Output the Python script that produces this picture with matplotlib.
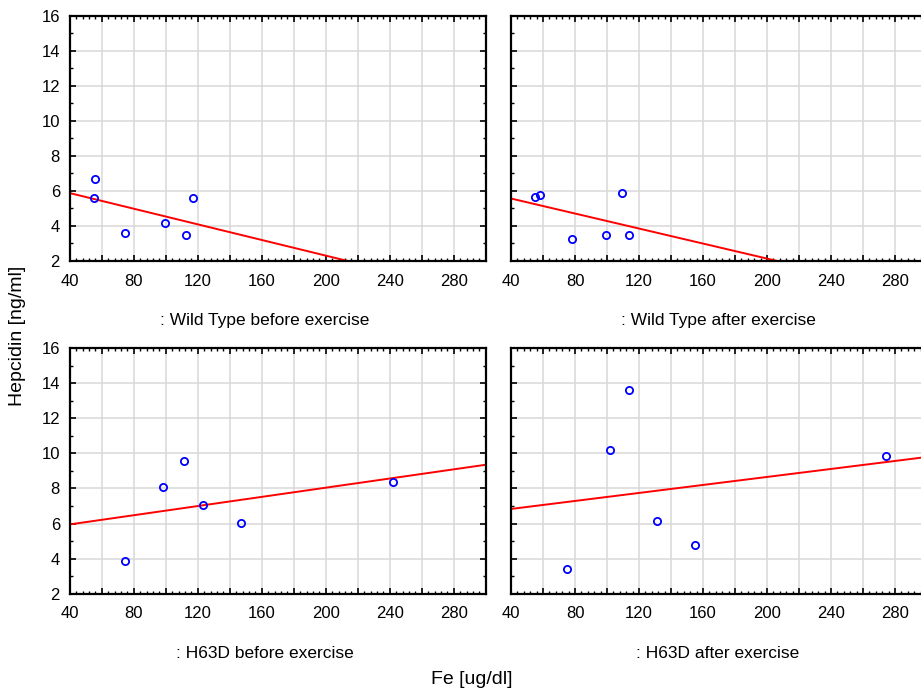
import numpy as np
import matplotlib
matplotlib.use("Agg")
import matplotlib.pyplot as plt
from matplotlib.ticker import MultipleLocator

plt.rcParams['font.family'] = ['Liberation Sans', 'DejaVu Sans']

# Data (Fe [ug/dl], Hepcidin [ng/ml])
wt_before_fe = [56.0, 55.0, 74.8, 99.4, 112.5, 117.3]
wt_before_hep = [6.68, 5.60, 3.60, 4.15, 3.50, 5.60]

wt_after_fe = [55.0, 58.1, 77.9, 99.6, 109.4, 113.5]
wt_after_hep = [5.67, 5.77, 3.24, 3.50, 5.86, 3.50]

h63d_before_fe = [74.8, 98.5, 111.5, 123.3, 147.1, 242.1]
h63d_before_hep = [3.87, 8.11, 9.56, 7.03, 6.04, 8.38]

h63d_after_fe = [74.8, 101.7, 113.5, 131.25, 155.0, 274.6]
h63d_after_hep = [3.41, 10.19, 13.62, 6.13, 4.76, 9.85]

panel_titles = [": Wild Type before exercise", ": Wild Type after exercise",
                ": H63D before exercise", ": H63D after exercise"]
x_ticks = list(range(40, 301, 20))
x_labels = [str(v) if (v % 40 == 0 and v < 300) else "" for v in x_ticks]
y_ticks = list(range(2, 17, 2))

panels = [(wt_before_fe, wt_before_hep), (wt_after_fe, wt_after_hep),
          (h63d_before_fe, h63d_before_hep), (h63d_after_fe, h63d_after_hep)]

W, H = 921, 695
fig = plt.figure(figsize=(W / 100, H / 100), dpi=100)

lefts = [69.7, 511.0]
tops = [15.7, 348.3]
aw, ah = 416.0, 245.3
label_x = [265.0, 718.0]
label_y = [320.7, 653.3]

for i, (fe, hep) in enumerate(panels):
    r, c = divmod(i, 2)
    L, T = lefts[c], tops[r]
    ax = fig.add_axes([L / W, 1 - (T + ah) / H, aw / W, ah / H])
    ax.set_xlim(40, 300)
    ax.set_ylim(2, 16)
    ax.set_xticks(x_ticks)
    ax.set_xticklabels(x_labels)
    ax.xaxis.set_minor_locator(MultipleLocator(4))
    ax.set_yticks(y_ticks)
    ax.yaxis.set_minor_locator(MultipleLocator(1))
    if c == 1:
        ax.set_yticklabels([])
    ax.grid(True, which='major', color='#d8d8d8', linewidth=1.1)
    ax.set_axisbelow(True)
    ax.tick_params(which='both', direction='in', top=True, right=True,
                   labelsize=12, color='black')
    ax.tick_params(axis='x', which='major', length=4, width=1.2, pad=9)
    ax.tick_params(axis='y', which='major', length=4, width=1.2, pad=7)
    ax.tick_params(which='minor', length=2.2, width=1.0)
    for s in ax.spines.values():
        s.set_linewidth(1.6)
        s.set_color('black')

    fe_a = np.array(fe)
    hep_a = np.array(hep)
    slope, intercept = np.polyfit(fe_a, hep_a, 1)
    xs = np.array([40.0, 300.0])
    ax.plot(xs, intercept + slope * xs, color='#ff0000', linewidth=1.4, zorder=2)
    ax.plot(fe_a, hep_a, linestyle='none', marker='o', markersize=5.2,
            markerfacecolor='none', markeredgecolor='#0000ff',
            markeredgewidth=1.3, zorder=3, clip_on=False)

    fig.text(label_x[c] / W, 1 - label_y[r] / H, panel_titles[i],
             ha='center', va='center', fontsize=12.5)

fig.text(17.5 / W, 1 - 336 / H, "Hepcidin [ng/ml]", rotation=90,
         ha='center', va='center', fontsize=14)
fig.text(471.7 / W, 1 - 680 / H, "Fe [ug/dl]", ha='center', va='center',
         fontsize=14)

fig.savefig("out.png", dpi=100)
